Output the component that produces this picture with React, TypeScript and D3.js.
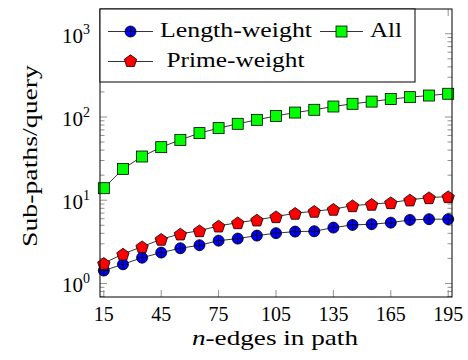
import React from 'react';
import * as d3 from 'd3';

const edges = [15, 25, 35, 45, 55, 65, 75, 85, 95, 105, 115, 125, 135, 145, 155, 165, 175, 185, 195];
const lengthWeight = [1.43, 1.7, 2.04, 2.35, 2.65, 2.88, 3.27, 3.46, 3.76, 4.02, 4.2, 4.24, 4.69, 5.05, 5.15, 5.38, 5.8, 5.92, 5.92];
const primeWeight = [1.75, 2.26, 2.77, 3.4, 3.94, 4.31, 4.91, 5.38, 5.8, 6.36, 6.98, 7.38, 7.8, 8.62, 8.96, 9.37, 10.1, 10.76, 11.06];
const allPaths = [13.95, 23.8, 33.5, 43.4, 53.1, 64, 73.5, 82.8, 92.4, 103, 113, 122, 133.6, 144, 153, 164, 173, 181, 190];
const xTicks = [15, 45, 75, 105, 135, 165, 195];
const yTicks = [1, 10, 100, 1000];

const W = 468;
const H = 360;
const left = 100, right = 452, top = 9, bottom = 297;
const font = "'Liberation Serif', 'DejaVu Serif', 'Times New Roman', serif";

const x = d3.scaleLinear().domain([13, 197]).range([left, right]);
const y = d3.scaleLog().domain([0.688, 1982]).range([bottom, top]);

// minor ticks 2..9 per decade
const yMinor: number[] = [];
for (let e = -1; e <= 3; e++) {
  for (let k = 2; k <= 9; k++) {
    const v = k * Math.pow(10, e);
    if (v > 0.688 && v < 1982) yMinor.push(v);
  }
}

const line = d3.line<number>();

function Circle(props: { cx: number; cy: number }) {
  const { cx, cy } = props;
  const r = 5.5;
  return (
    <g>
      <circle cx={cx} cy={cy} r={r} fill="#0000ff" stroke="#000" strokeWidth={0.8} />
      <path d={`M${cx - r},${cy}H${cx + r}M${cx},${cy - r}V${cy + r}`} stroke="#000" strokeWidth={0.8} />
    </g>
  );
}

function Square(props: { cx: number; cy: number }) {
  const s = 11;
  return <rect x={props.cx - s / 2} y={props.cy - s / 2} width={s} height={s} fill="#00ff00" stroke="#000" strokeWidth={0.8} />;
}

function Pentagon(props: { cx: number; cy: number }) {
  const r = 6.5;
  const pts = d3.range(5).map(i => {
    const a = -Math.PI / 2 + (i * 2 * Math.PI) / 5;
    return [props.cx + r * Math.cos(a), props.cy + r * Math.sin(a) + 0.8];
  });
  return <polygon points={pts.map(p => p.join(',')).join(' ')} fill="#ff0000" stroke="#000" strokeWidth={0.8} />;
}

function Series(props: { values: number[]; Marker: any }) {
  const pts = props.values.map((v, i) => [x(edges[i]), y(v)] as [number, number]);
  const M = props.Marker;
  return (
    <g>
      <path d={d3.line()(pts) || ''} fill="none" stroke="#000" strokeWidth={0.8} />
      {pts.map((p, i) => <M key={i} cx={p[0]} cy={p[1]} />)}
    </g>
  );
}

function T(props: any) {
  const { children, ...rest } = props;
  return <text fontFamily={font} {...rest}>{children}</text>;
}

export default function App() {
  const tickColor = '#777';
  return (
    <svg width={W} height={H} style={{ position: 'absolute', left: 0, top: 0, background: '#fff' }}>
      <g fill="#000">
        {/* ticks */}
        {yMinor.map(v => (
          <g key={'m' + v} stroke={tickColor} strokeWidth={0.8}>
            <line x1={left} x2={left + 4.5} y1={y(v)} y2={y(v)} />
            <line x1={right} x2={right - 4.5} y1={y(v)} y2={y(v)} />
          </g>
        ))}
        {yTicks.map(v => (
          <g key={'y' + v}>
            <line x1={left} x2={left + 7} y1={y(v)} y2={y(v)} stroke={tickColor} strokeWidth={0.8} />
            <line x1={right} x2={right - 7} y1={y(v)} y2={y(v)} stroke={tickColor} strokeWidth={0.8} />
            <T x={90} y={y(v) + 9} textAnchor="end" fontSize={21}>
              10<tspan dy={-9} fontSize={14}>{Math.round(Math.log10(v))}</tspan>
            </T>
          </g>
        ))}
        {xTicks.map(v => (
          <g key={'x' + v}>
            <line x1={x(v)} x2={x(v)} y1={bottom} y2={bottom - 7} stroke={tickColor} strokeWidth={0.8} />
            <line x1={x(v)} x2={x(v)} y1={top} y2={top + 7} stroke={tickColor} strokeWidth={0.8} />
            <T x={x(v)} y={321} textAnchor="middle" fontSize={20}>{v}</T>
          </g>
        ))}

        {/* series */}
        <Series values={lengthWeight} Marker={Circle} />
        <Series values={primeWeight} Marker={Pentagon} />
        <Series values={allPaths} Marker={Square} />

        {/* frame */}
        <rect x={left} y={top} width={right - left} height={bottom - top} fill="none" stroke="#000" strokeWidth={1} />

        {/* labels */}
        <T x={275} y={345} textAnchor="middle" fontSize={21} textLength={166} lengthAdjust="spacingAndGlyphs">
          <tspan fontStyle="italic">n</tspan>-edges in path
        </T>
        <T transform="translate(37,156) rotate(-90)" textAnchor="middle" fontSize={21} textLength={182} lengthAdjust="spacingAndGlyphs">
          Sub-paths/query
        </T>

        {/* legend */}
        <rect x={left} y={top} width={415 - left} height={82 - top} fill="#fff" stroke="#000" strokeWidth={1} />
        <path d={line([[108, 31.5], [153, 31.5]]) || ''} stroke="#000" strokeWidth={0.8} />
        <Circle cx={130.5} cy={31.5} />
        <T x={160} y={37} fontSize={21} textLength={152} lengthAdjust="spacingAndGlyphs">Length-weight</T>
        <path d={line([[320, 31.5], [363, 31.5]]) || ''} stroke="#000" strokeWidth={0.8} />
        <Square cx={341.5} cy={31.5} />
        <T x={370} y={37} fontSize={21} textLength={32} lengthAdjust="spacingAndGlyphs">All</T>
        <path d={line([[108, 61.5], [153, 61.5]]) || ''} stroke="#000" strokeWidth={0.8} />
        <Pentagon cx={130.5} cy={60.5} />
        <T x={166.5} y={67} fontSize={21} textLength={138} lengthAdjust="spacingAndGlyphs">Prime-weight</T>
      </g>
    </svg>
  );
}
